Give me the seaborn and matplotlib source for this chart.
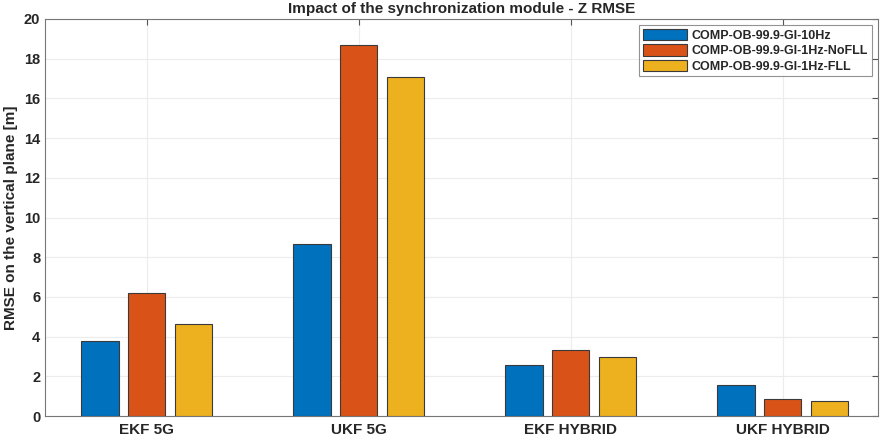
import pandas as pd
import matplotlib.pyplot as plt
import seaborn as sns

# Values
categories = ['EKF 5G', 'UKF 5G', 'EKF HYBRID', 'UKF HYBRID']
series_names = ['COMP-OB-99.9-GI-10Hz', 'COMP-OB-99.9-GI-1Hz-NoFLL', 'COMP-OB-99.9-GI-1Hz-FLL']
rmse_10hz = [3.78, 8.65, 2.57, 1.56]
rmse_1hz_nofll = [6.2, 18.68, 3.32, 0.86]
rmse_1hz_fll = [4.63, 17.1, 2.97, 0.75]

colors = ['#0072BD', '#D95319', '#EDB120']

data = pd.DataFrame({
    'Method': categories * 3,
    'Config': [series_names[0]] * 4 + [series_names[1]] * 4 + [series_names[2]] * 4,
    'RMSE': rmse_10hz + rmse_1hz_nofll + rmse_1hz_fll,
})

sns.set_style('white')
plt.rcParams['font.family'] = ['Liberation Sans', 'DejaVu Sans']
plt.rcParams['font.weight'] = 'bold'

fig = plt.figure(figsize=(8.89, 4.41), dpi=100)
ax = fig.add_axes([45 / 889, 1 - 416 / 441, (878 - 45) / 889, (416 - 19) / 441])

sns.barplot(data=data, x='Method', y='RMSE', hue='Config', order=categories,
            hue_order=series_names, palette=colors, width=0.66, gap=0.2,
            edgecolor='#3a3a3a', linewidth=0.8, saturation=1, ax=ax, zorder=3)

ax.set_ylim(0, 20)
ax.set_xlim(-0.48, 3.45)
ax.set_yticks(range(0, 21, 2))
ax.grid(True, color='#ececec', linewidth=0.8, zorder=0)
ax.set_axisbelow(True)
ax.tick_params(axis='both', direction='in', length=4, color='#555555',
               labelsize=10.5, top=True, right=True, labelcolor='#262626')
ax.tick_params(axis='x', labelsize=11, pad=5)
for lbl in ax.get_xticklabels() + ax.get_yticklabels():
    lbl.set_fontweight('bold')
for s in ax.spines.values():
    s.set_color('#777777')
    s.set_linewidth(0.8)

ax.set_title('Impact of the synchronization module - Z RMSE', fontsize=11,
             fontweight='bold', pad=4)
ax.set_xlabel('')
ax.set_ylabel('RMSE on the vertical plane [m]', fontsize=11, fontweight='bold', labelpad=4)

leg = ax.legend(loc='upper right', fontsize=9, frameon=True, fancybox=False,
                handlelength=3.5, handleheight=1.0, borderaxespad=0.5,
                labelspacing=0.2, handletextpad=0.4, borderpad=0.3)
leg.get_frame().set_edgecolor('#777777')
leg.get_frame().set_linewidth(0.8)
for t in leg.get_texts():
    t.set_fontweight('bold')

fig.savefig('out.png', dpi=100)
